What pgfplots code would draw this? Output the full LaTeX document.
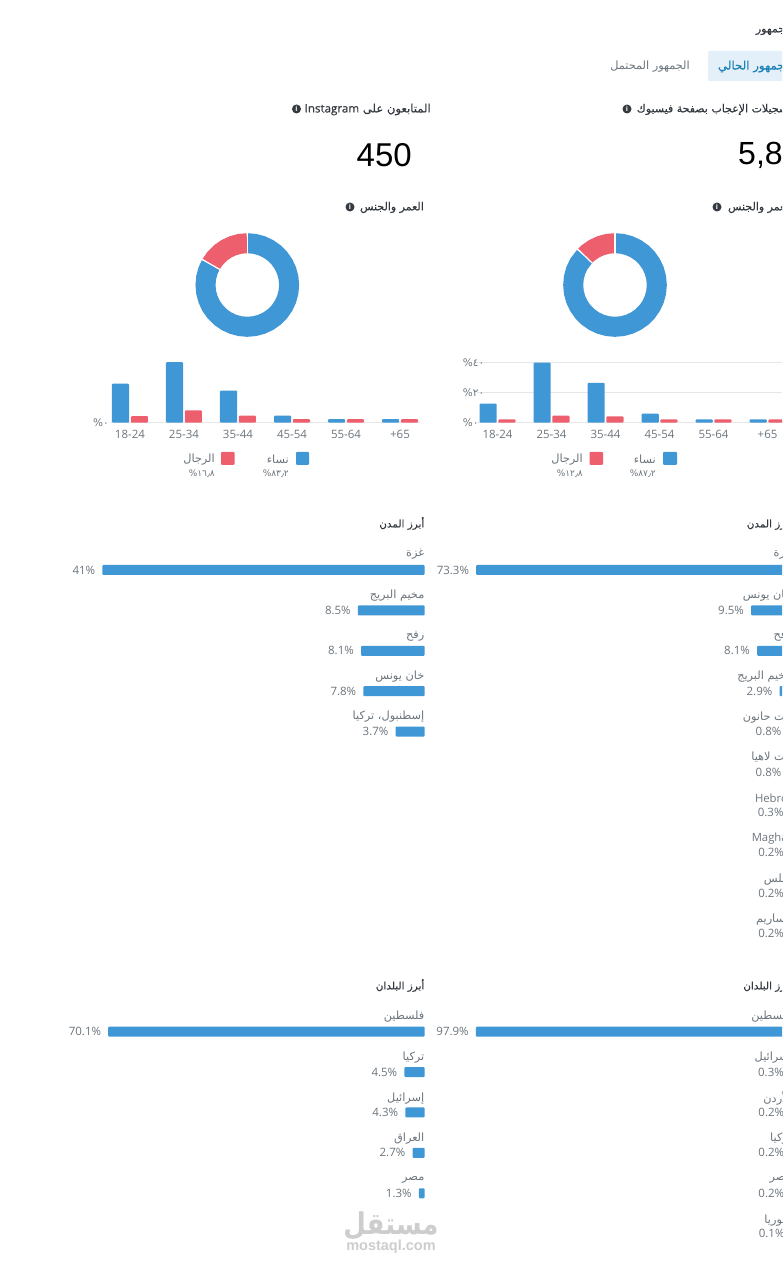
\documentclass[border=0pt]{standalone}
\usepackage{pgfplots}
\pgfplotsset{compat=1.18}
\usepackage{fontspec}
\setmainfont{Open Sans}
\newfontfamily\arf[Script=Arabic]{DejaVu Sans}
\newfontfamily\arfb[Script=Arabic,FakeBold=0.35]{DejaVu Sans}
\newfontfamily\osb[FakeBold=0.35]{Open Sans}
\newfontfamily\lib{Liberation Sans}
\TeXXeTstate=1
\newcommand\AR[1]{{\arf\beginR #1\endR}}
\definecolor{cblue}{HTML}{3F97D6}
\definecolor{cred}{HTML}{EE5F6E}
\definecolor{cgrey}{HTML}{6C757D}
\definecolor{cdark}{HTML}{343A40}
\definecolor{ctab}{HTML}{E3EFF9}
\definecolor{ctabt}{HTML}{1A7FB5}
\definecolor{cgrid}{HTML}{E6E6E6}
\definecolor{cwm}{HTML}{CDCDCD}
\newcommand\PX[2]{(#1pt,{(1280-(#2))*1pt})}
\newcommand\TE[4][cgrey]{\node[anchor=east,inner sep=0pt,text=#1,font=\fontsize{11.3pt}{12pt}\selectfont] at \PX{#2}{#3+1.5} {#4};}
\newcommand\TB[5][cdark]{\node[anchor=east,inner sep=0pt,text=#1,font=\fontsize{#2pt}{12pt}\selectfont\let\arf\arfb] at \PX{#3}{#4+0.5} {#5};}
\newcommand\INFO[2]{\node[circle,fill=cdark,inner sep=0pt,minimum size=9pt,text=white,font=\fontsize{7pt}{7pt}\selectfont\bfseries] at \PX{#1}{#2} {i};}
\pgfplotsset{
 pos/.style 2 args={at={(#1pt,{(1280-#2)*1pt})}},
 hb/.style={xbar,scale only axis,hide axis,clip=false,x dir=reverse,y dir=reverse,
   width=330pt,anchor=north east,xmin=0,ymin=-0.5,
   bar width=10pt,
   nodes near coords={\pgfmathprintnumber[fixed,precision=1,assume math mode=true]{\pgfplotspointmeta}\%},
   nodes near coords style={anchor=east,inner sep=0pt,xshift=-7pt,text=cgrey,font=\fontsize{11.5pt}{12pt}\selectfont},
   point meta=x},
 hbp/.style={fill=cblue,draw=none,rounded corners=1pt,bar shift=0pt},
 ag/.style={ybar,scale only axis,anchor=south west,ymin=0,
   xtick={0,1,2,3,4,5},xticklabels={18-24,25-34,35-44,45-54,55-64,+65},
   axis line style={draw=none},major tick length=0pt,
   ymajorgrids,grid style={cgrid,line width=0.8pt},
   bar width=17.2pt,
   tick label style={text=cgrey},
   xticklabel style={font=\fontsize{11.5pt}{12pt}\selectfont,inner sep=0pt,yshift=-7pt},
   yticklabel style={font=\fontsize{10.5pt}{12pt}\selectfont,inner sep=0pt}},
 wb/.style={fill=cblue,draw=none,rounded corners=1pt,bar shift=-9.4pt},
 mb/.style={fill=cred,draw=none,rounded corners=1pt,bar shift=9.4pt},
 dn/.style={hide axis,scale only axis,clip=false,anchor=center,width=104pt,height=104pt,
   xmin=-52,xmax=52,ymin=-52,ymax=52},
 ring/.style={data cs=polar,line width=20pt,no marks},
 sep/.style={data cs=polar,draw=white,line width=1.2pt,no marks}
}
\begin{document}
\begin{tikzpicture}
\path[use as bounding box] (0,0) rectangle (782pt,1280pt);
\clip (0,0) rectangle (782pt,1280pt);
\fill[white] (0,0) rectangle (782pt,1280pt);

% header
\TB{11}{792}{29}{\AR{الجمهور}}
\fill[ctab,rounded corners=2pt] \PX{708}{51} rectangle \PX{800}{81};
\TB[ctabt]{11.8}{792}{66}{\AR{الجمهور الحالي}}
\TE{690}{65}{\AR{الجمهور المحتمل}}

% left column headings
\TB{11.6}{431}{109}{\AR{المتابعون على \beginL{\osb Instagram}\endL}}
\INFO{296.5}{109}
\node[anchor=east,inner sep=0pt,text=black,font=\fontsize{33pt}{36pt}\lib] at \PX{412}{155} {450};
\TB{11}{424}{207}{\AR{العمر والجنس}}
\INFO{350}{207}

% right column headings
\TB{11}{792}{109}{\AR{تسجيلات الإعجاب بصفحة فيسبوك}}
\INFO{627}{109}
\node[anchor=west,inner sep=0pt,text=black,font=\fontsize{32pt}{36pt}\lib] at \PX{738}{155} {5,837};
\TB{11}{792}{207}{\AR{العمر والجنس}}
\INFO{717}{207}

% donuts
\begin{axis}[dn,pos={247.3}{285}]
\addplot[ring,cblue] coordinates {(90,41.8)(80,41.8)(70,41.8)(60,41.8)(50,41.8)(40,41.8)(30,41.8)(20,41.8)(10,41.8)(0,41.8)(-10,41.8)(-20,41.8)(-30,41.8)(-40,41.8)(-50,41.8)(-60,41.8)(-70,41.8)(-80,41.8)(-90,41.8)(-100,41.8)(-110,41.8)(-120,41.8)(-130,41.8)(-140,41.8)(-150,41.8)(-160,41.8)(-170,41.8)(-180,41.8)(-190,41.8)(-200,41.8)(-209.5,41.8)};
\addplot[ring,cred] coordinates {(150.5,41.8)(140,41.8)(130,41.8)(120,41.8)(110,41.8)(100,41.8)(90,41.8)};
\addplot[sep] coordinates {(90,31)(90,53)};
\addplot[sep] coordinates {(150.5,31)(150.5,53)};
\end{axis}
\begin{axis}[dn,pos={615}{285}]
\addplot[ring,cblue] coordinates {(90,41.8)(80,41.8)(70,41.8)(60,41.8)(50,41.8)(40,41.8)(30,41.8)(20,41.8)(10,41.8)(0,41.8)(-10,41.8)(-20,41.8)(-30,41.8)(-40,41.8)(-50,41.8)(-60,41.8)(-70,41.8)(-80,41.8)(-90,41.8)(-100,41.8)(-110,41.8)(-120,41.8)(-130,41.8)(-140,41.8)(-150,41.8)(-160,41.8)(-170,41.8)(-180,41.8)(-190,41.8)(-200,41.8)(-210,41.8)(-223.9,41.8)};
\addplot[ring,cred] coordinates {(136.1,41.8)(130,41.8)(120,41.8)(110,41.8)(100,41.8)(90,41.8)};
\addplot[sep] coordinates {(90,31)(90,53)};
\addplot[sep] coordinates {(136.1,31)(136.1,53)};
\end{axis}

% age bars, left
\begin{axis}[ag,pos={110}{422.7},width=310pt,height=60.5pt,
  xmin=-0.37,xmax=5.37,ymax=34.6,ytick={0},
  yticklabel style={anchor=east,xshift=-1pt},
  yticklabels={\arf ٠\%}]
\addplot[wb] coordinates {(0,22.3)(1,34.6)(2,18.3)(3,4)(4,2)(5,2)};
\addplot[mb] coordinates {(0,3.7)(1,7.1)(2,4)(3,2)(4,2)(5,2)};
\end{axis}

% age bars, right
\begin{axis}[ag,pos={477}{422.7},width=315.4pt,height=60pt,
  xmin=-0.38,xmax=5.46,ymax=40,ytick={0,20,40},
  yticklabel style={anchor=west,xshift=-14.3pt},
  yticklabels={\arf ٠\%,\arf ٢٠\%,\arf ٤٠\%}]
\addplot[wb] coordinates {(0,12.7)(1,40)(2,26.6)(3,6)(4,2.2)(5,2.2)};
\addplot[mb] coordinates {(0,2.2)(1,4.7)(2,4.2)(3,2.2)(4,2.2)(5,2.2)};
\end{axis}

% legends
\fill[cblue,rounded corners=1pt] \PX{296}{452} rectangle \PX{309}{465};
\fill[cred,rounded corners=1pt] \PX{221}{452} rectangle \PX{234.5}{465};
\TE{289}{458}{\AR{نساء}}
\TE{215}{458}{\AR{الرجال}}
\node[anchor=east,inner sep=0pt,text=cgrey,font=\fontsize{9pt}{10pt}\arf] at \PX{289}{474} {٨٣٫٢\%};
\node[anchor=east,inner sep=0pt,text=cgrey,font=\fontsize{9pt}{10pt}\arf] at \PX{215}{474} {١٦٫٨\%};
\fill[cblue,rounded corners=1pt] \PX{663}{452} rectangle \PX{677}{465};
\fill[cred,rounded corners=1pt] \PX{589.5}{452} rectangle \PX{603}{465};
\TE{656}{458}{\AR{نساء}}
\TE{583}{458}{\AR{الرجال}}
\node[anchor=east,inner sep=0pt,text=cgrey,font=\fontsize{9pt}{10pt}\arf] at \PX{656}{474} {٨٧٫٢\%};
\node[anchor=east,inner sep=0pt,text=cgrey,font=\fontsize{9pt}{10pt}\arf] at \PX{583}{474} {١٢٫٨\%};

% cities, left
\TB{10.4}{424.5}{523}{\AR{أبرز المدن}}
\begin{axis}[hb,pos={424.7}{549.8},height=202pt,xmax=41.98,ymax=4.5]
\addplot[hbp] coordinates {(41,0)(8.5,1)(8.1,2)(7.8,3)(3.7,4)};
\end{axis}
\TE{424.5}{553}{\AR{غزة}}
\TE{424.5}{594}{\AR{مخيم البريج}}
\TE{424.5}{635}{\AR{رفح}}
\TE{424.5}{675}{\AR{خان يونس}}
\TE{424.5}{715}{\AR{إسطنبول، تركيا}}

% cities, right
\TB{10.4}{792}{523}{\AR{أبرز المدن}}
\begin{axis}[hb,pos={792}{549.8},height=404pt,xmax=76.6,ymax=9.5]
\addplot[hbp] coordinates {(73.3,0)(9.5,1)(8.1,2)(2.9,3)(0.8,4)(0.8,5)(0.3,6)(0.2,7)(0.2,8)(0.2,9)};
\end{axis}
\TE{792}{553}{\AR{غزة}}
\TE{792}{594}{\AR{خان يونس}}
\TE{792}{635}{\AR{رفح}}
\TE{792}{675}{\AR{مخيم البريج}}
\TE{792}{716}{\AR{بيت حانون}}
\TE{792}{756}{\AR{بيت لاهيا}}
\TE{795}{797}{Hebron}
\TE{796}{837}{Maghazi}
\TE{792}{878}{\AR{نابلس}}
\TE{792}{918}{\AR{مساريم}}

% countries, left
\TB{10.4}{424.5}{985}{\AR{أبرز البلدان}}
\begin{axis}[hb,pos={424.7}{1011.5},height=202pt,xmax=73.1,ymax=4.5]
\addplot[hbp] coordinates {(70.1,0)(4.5,1)(4.3,2)(2.7,3)(1.3,4)};
\end{axis}
\TE{424.5}{1015}{\AR{فلسطين}}
\TE{424.5}{1056}{\AR{تركيا}}
\TE{424.5}{1097}{\AR{إسرائيل}}
\TE{424.5}{1137}{\AR{العراق}}
\TE{424.5}{1178}{\AR{مصر}}

% countries, right
\TB{10.4}{792}{985}{\AR{أبرز البلدان}}
\begin{axis}[hb,pos={792}{1011.5},height=242.4pt,xmax=102.2,ymax=5.5]
\addplot[hbp] coordinates {(97.9,0)(0.3,1)(0.2,2)(0.2,3)(0.2,4)(0.1,5)};
\end{axis}
\TE{792}{1015}{\AR{فلسطين}}
\TE{792}{1056}{\AR{إسرائيل}}
\TE{792}{1097}{\AR{الأردن}}
\TE{792}{1137}{\AR{تركيا}}
\TE{792}{1178}{\AR{مصر}}
\TE{792}{1219}{\AR{سوريا}}

% watermark
\node[anchor=center,inner sep=0pt,text=cwm,yscale=1.15,transform shape,font=\fontsize{26pt}{28pt}\selectfont\bfseries] at \PX{391}{1226} {\AR{مستقل}};
\node[anchor=center,inner sep=0pt,text=cwm,font=\fontsize{14.5pt}{15pt}\lib\bfseries] at \PX{391}{1247} {mostaql.com};
\end{tikzpicture}
\end{document}
